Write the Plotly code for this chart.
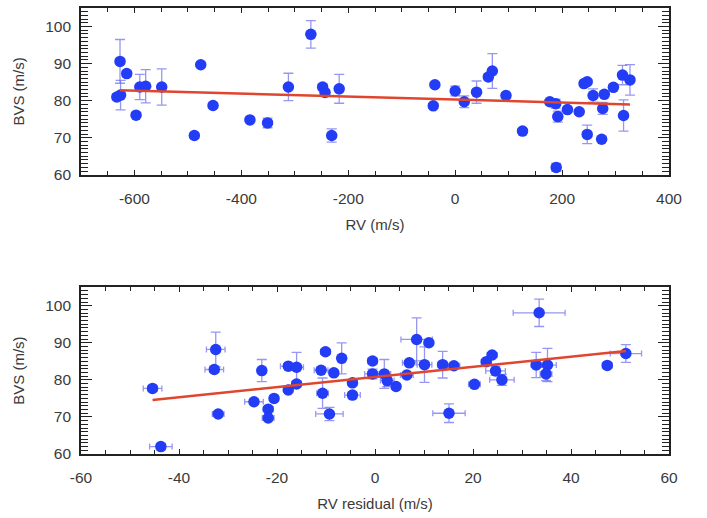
import plotly.graph_objects as go

# ---------------- data: top panel (BVS vs RV) ----------------
rv = [-627, -633, -626, -614.5, -597, -590, -579, -549, -488, -476, -453, -384, -351,
      -312, -270, -248, -243.5, -231, -217, -41, -38, 0, 17, 40, 62, 69.5, 95, 126,
      177, 188, 192, 210, 232, 241, 247, 247, 258, 274, 276, 279, 296, 313, 315, 327, 189]
bvs_rv = [90.6, 81.0, 81.5, 87.3, 76.1, 83.7, 83.9, 83.7, 70.6, 89.7, 78.7, 74.8, 74.0,
          83.7, 97.9, 83.7, 82.2, 70.6, 83.2, 78.6, 84.3, 82.6, 79.7, 82.3, 86.4, 88.0, 81.4, 71.8,
          79.7, 79.2, 75.7, 77.6, 77.0, 84.6, 85.1, 70.9, 81.4, 69.6, 77.9, 81.7, 83.6, 86.9, 76.0, 85.6, 62.0]
bvs_rv_err = [5.9, 0.8, 4.0, 0.8, 0.6, 3.4, 4.5, 4.9, 0.6, 0.6, 0.6, 0.5, 1.3,
              3.7, 3.7, 0.8, 0.8, 1.8, 3.9, 0.6, 0.6, 1.3, 1.6, 3.0, 0.8, 4.7, 0.6, 0.6,
              0.6, 1.2, 1.5, 0.6, 0.6, 0.6, 0.6, 2.5, 1.8, 0.6, 1.6, 0.6, 0.6, 2.6, 4.2, 4.1, 1.1]
fit_rv_x = [-627, 327]
fit_rv_y = [82.8, 79.0]

# ---------------- data: bottom panel (BVS vs RV residual) ----------------
resid = [-45.4, -43.7, -32.5, -32.8, -32.0, -24.7, -23.1, -21.8, -21.8, -20.6, -17.7, -17.7,
         -16.0, -16.0, -11.0, -10.7, -10.1, -9.3, -8.4, -6.8, -4.6, -4.6, -0.5, -0.5, 1.9, 2.5,
         4.3, 6.5, 7.0, 8.5, 11.0, 10.1, 13.8, 16.1, 15.1, 20.3, 22.7, 23.9, 24.6, 25.9, 32.9,
         33.5, 35.2, 34.9, 47.4, 51.2]
resid_err = [1.9, 2.3, 1.9, 1.9, 1.2, 1.9, 0.8, 1.0, 1.2, 0.8, 1.6, 0.8,
             1.4, 0.9, 1.4, 1.2, 1.0, 2.8, 0.9, 0.8, 0.9, 1.6, 0.9, 1.6, 1.3, 1.4,
             0.9, 1.3, 1.4, 3.2, 0.9, 1.5, 1.0, 1.2, 3.3, 1.2, 1.0, 1.0, 2.0, 2.5, 1.0,
             5.3, 1.8, 1.2, 1.0, 3.2]
bvs_res = [77.7, 62.0, 88.2, 82.8, 70.8, 74.1, 82.5, 72.1, 69.7, 75.0, 83.7, 77.3,
           83.4, 78.9, 82.6, 76.4, 87.6, 70.8, 81.9, 85.8, 79.2, 75.9, 85.1, 81.6, 81.6, 79.8,
           78.2, 81.3, 84.6, 90.9, 90.0, 84.1, 84.1, 83.8, 71.0, 78.8, 84.9, 86.7, 82.4, 80.0, 84.0,
           98.1, 84.0, 81.6, 83.9, 87.1]
bvs_res_err = [0.7, 0.8, 4.7, 0.8, 0.6, 0.7, 3.0, 0.6, 0.6, 0.5, 0.6, 0.6,
               4.0, 0.8, 0.6, 4.1, 0.6, 1.8, 0.6, 4.2, 0.6, 0.8, 0.8, 1.3, 3.9, 1.6,
               0.6, 0.6, 0.6, 5.8, 0.5, 4.8, 3.6, 0.6, 2.5, 0.6, 0.6, 0.6, 1.2, 1.5, 3.4,
               3.7, 4.5, 1.8, 0.6, 2.4]
fit_res_x = [-45.4, 51.2]
fit_res_y = [74.6, 87.8]

x_top_ticks = [-600, -400, -200, 0, 200, 400]
x_top_labels = ['-600', '-400', '-200', '0', '200', '400']
x_bot_ticks = [-60, -40, -20, 0, 20, 40, 60]
x_bot_labels = ['-60', '-40', '-20', '0', '20', '40', '60']

# ---------------- styles ----------------
MARK = '#233cf5'
ERR = 'rgba(95,95,235,0.65)'
FIT = '#e0462d'
AX = '#222222'
FONT = dict(family='Liberation Sans, Arial, Helvetica, sans-serif', size=15, color='#3a3a3a')
TICKFONT = dict(family='Liberation Sans, Arial, Helvetica, sans-serif', size=15.5, color='#3a3a3a')

fig = go.Figure()

fig.add_trace(go.Scatter(
    x=rv, y=bvs_rv, mode='markers', xaxis='x', yaxis='y',
    marker=dict(color=MARK, size=11.5, line=dict(width=0)),
    error_y=dict(type='data', array=bvs_rv_err, color=ERR, thickness=1.3, width=5),
    showlegend=False, hoverinfo='x+y'))
fig.add_trace(go.Scatter(
    x=fit_rv_x, y=fit_rv_y, mode='lines', xaxis='x', yaxis='y',
    line=dict(color=FIT, width=2.5), showlegend=False))

fig.add_trace(go.Scatter(
    x=resid, y=bvs_res, mode='markers', xaxis='x2', yaxis='y2',
    marker=dict(color=MARK, size=11.5, line=dict(width=0)),
    error_x=dict(type='data', array=resid_err, color=ERR, thickness=1.3, width=3),
    error_y=dict(type='data', array=bvs_res_err, color=ERR, thickness=1.3, width=5),
    showlegend=False, hoverinfo='x+y'))
fig.add_trace(go.Scatter(
    x=fit_res_x, y=fit_res_y, mode='lines', xaxis='x2', yaxis='y2',
    line=dict(color=FIT, width=2.5), showlegend=False))

xcommon = dict(showgrid=False, zeroline=False, showline=True, linecolor=AX, linewidth=1.6,
               mirror='allticks', ticks='inside', ticklen=5, tickwidth=1.3, tickcolor=AX,
               tickfont=TICKFONT, ticklabelstandoff=9)
ycommon = dict(showgrid=False, zeroline=False, showline=True, linecolor=AX, linewidth=1.6,
               mirror='allticks', ticks='inside', ticklen=11, tickwidth=1.3, tickcolor=AX,
               tickfont=TICKFONT, range=[60, 105], tickmode='linear', tick0=60, dtick=10,
               minor=dict(tickmode='linear', tick0=60, dtick=1, ticklen=7, tickwidth=1.1,
                          tickcolor=AX, ticks='inside', showgrid=False),
               ticklabelstandoff=5,
               title=dict(text='BVS (m/s)', font=FONT, standoff=17))

fig.update_layout(
    width=707, height=518,
    margin=dict(l=81, r=38, t=6, b=64),
    paper_bgcolor='white', plot_bgcolor='white',
    font=FONT,
    xaxis=dict(xcommon, domain=[0, 1], anchor='y', range=[-700, 400],
               tickmode='array', tickvals=x_top_ticks, ticktext=x_top_labels,
               minor=dict(tickmode='linear', tick0=0, dtick=50, ticklen=4, tickwidth=1.1,
                          tickcolor=AX, ticks='inside', showgrid=False),
               title=dict(text='RV (m/s)', font=FONT, standoff=13)),
    yaxis=dict(ycommon, domain=[0.626, 1], anchor='x'),
    xaxis2=dict(xcommon, domain=[0, 1], anchor='y2', range=[-60, 60],
                tickmode='array', tickvals=x_bot_ticks, ticktext=x_bot_labels,
                minor=dict(tickmode='linear', tick0=0, dtick=5, ticklen=4, tickwidth=1.1,
                           tickcolor=AX, ticks='inside', showgrid=False),
                title=dict(text='RV residual (m/s)', font=FONT, standoff=13)),
    yaxis2=dict(ycommon, domain=[0, 0.374], anchor='x2'),
)

fig.write_html('out.html', config={'displayModeBar': False},
               post_script="document.body.style.margin='0';document.body.style.padding='0';")
